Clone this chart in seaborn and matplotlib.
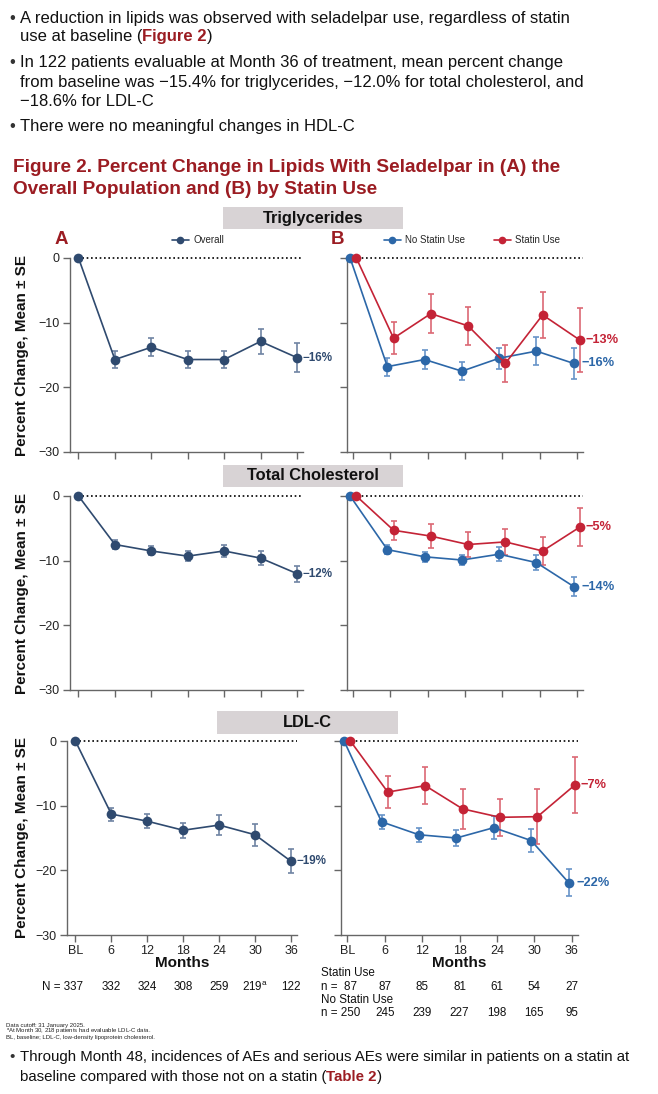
import numpy as np
import pandas as pd
import matplotlib
matplotlib.use("Agg")
import matplotlib.pyplot as plt
from matplotlib.lines import Line2D
from matplotlib.patches import Rectangle
import matplotlib.transforms as mtransforms
import seaborn as sns

# --- data ---
months = [0, 6, 12, 18, 24, 30, 36]
month_labels = ["BL", "6", "12", "18", "24", "30", "36"]

tg_overall = [0, -15.7, -13.8, -15.7, -15.7, -12.9, -15.4]
tg_overall_se = [0, 1.3, 1.4, 1.3, 1.3, 1.9, 2.2]
tg_nostatin = [0, -16.8, -15.7, -17.5, -15.5, -14.4, -16.3]
tg_nostatin_se = [0, 1.4, 1.5, 1.4, 1.6, 2.2, 2.4]
tg_statin = [0, -12.4, -8.6, -10.5, -16.3, -8.8, -12.7]
tg_statin_se = [0, 2.5, 3.0, 2.9, 2.9, 3.6, 5.0]

tc_overall = [0, -7.5, -8.5, -9.3, -8.5, -9.6, -12.0]
tc_overall_se = [0, 0.65, 0.7, 0.75, 1.0, 1.1, 1.25]
tc_nostatin = [0, -8.3, -9.4, -9.9, -9.0, -10.3, -14.0]
tc_nostatin_se = [0, 0.7, 0.8, 0.8, 1.1, 1.2, 1.4]
tc_statin = [0, -5.3, -6.2, -7.5, -7.1, -8.5, -4.8]
tc_statin_se = [0, 1.5, 1.8, 1.9, 2.0, 2.1, 3.0]

ldl_overall = [0, -11.3, -12.4, -13.8, -13.0, -14.5, -18.6]
ldl_overall_se = [0, 1.0, 1.1, 1.15, 1.5, 1.7, 1.85]
ldl_nostatin = [0, -12.5, -14.5, -15.0, -13.4, -15.4, -21.9]
ldl_nostatin_se = [0, 1.05, 1.1, 1.2, 1.75, 1.8, 2.05]
ldl_statin = [0, -7.9, -6.9, -10.5, -11.8, -11.7, -6.8]
ldl_statin_se = [0, 2.5, 2.9, 3.1, 2.9, 4.25, 4.3]

lipids = ["Triglycerides", "Total Cholesterol", "LDL-C"]
overall_labels = ["\u221216%", "\u221212%", "\u221219%"]
nostatin_labels = ["\u221216%", "\u221214%", "\u221222%"]
statin_labels = ["\u221213%", "\u22125%", "\u22127%"]

n_overall = ["332", "324", "308", "259", "219$^\\mathregular{a}$", "122"]
n_statin = ["87", "85", "81", "61", "54", "27"]
n_nostatin = ["245", "239", "227", "198", "165", "95"]

# --- style ---
sns.set_style("ticks")
plt.rcParams["font.family"] = ["Liberation Sans", "DejaVu Sans"]
plt.rcParams["axes.unicode_minus"] = True

NAVY = "#2f4a6f"
NAVY_E = "#6f84a3"
BLUE = "#2c67a8"
BLUE_E = "#6794c8"
RED = "#c42336"
RED_E = "#dc6874"
DARKRED = "#9b1c22"
GRAYBOX = "#d8d3d5"
INK = "#111111"

W, H = 658, 1094
fig = plt.figure(figsize=(W / 100, H / 100), dpi=100)
renderer = fig.canvas.get_renderer()


def fx(px):
    return px / W


def fy(py):
    return 1 - py / H


def rich_line(x_px, y_px, parts, size):
    x = x_px
    for s, color, weight in parts:
        t = fig.text(fx(x), fy(y_px), s, color=color, weight=weight, size=size,
                     ha="left", va="center")
        x += t.get_window_extent(renderer).width


def bullet(y_px, size):
    fig.text(fx(9), fy(y_px), "\u2022", size=size, va="center", color="#333333")


# --- top text ---
body = 12
bullet(18, body)
rich_line(20, 18, [("A reduction in lipids was observed with seladelpar use, regardless of statin", INK, "normal")], body)
rich_line(20, 37, [("use at baseline (", INK, "normal"), ("Figure 2", DARKRED, "bold"), (")", INK, "normal")], body)
bullet(63, body)
rich_line(20, 63, [("In 122 patients evaluable at Month 36 of treatment, mean percent change", INK, "normal")], body)
rich_line(20, 82, [("from baseline was \u221215.4% for triglycerides, \u221212.0% for total cholesterol, and", INK, "normal")], body)
rich_line(20, 101, [("\u221218.6% for LDL-C", INK, "normal")], body)
bullet(126, body)
rich_line(20, 126, [("There were no meaningful changes in HDL-C", INK, "normal")], body)

fig.text(fx(13), fy(167), "Figure 2. Percent Change in Lipids With Seladelpar in (A) the",
         color=DARKRED, weight="bold", size=13.7, va="center")
fig.text(fx(13), fy(189), "Overall Population and (B) by Statin Use",
         color=DARKRED, weight="bold", size=13.7, va="center")

# --- panels ---
rows = [
    dict(top=258, bottom=452, a=(70, 303), b=(347, 583), box=(223, 403, 207, 229)),
    dict(top=496, bottom=690, a=(70, 303), b=(347, 583), box=(223, 403, 465, 487)),
    dict(top=741, bottom=935, a=(67, 297), b=(341, 578), box=(217, 398, 711, 734)),
]
overall_data = [(tg_overall, tg_overall_se), (tc_overall, tc_overall_se), (ldl_overall, ldl_overall_se)]
nostatin_data = [(tg_nostatin, tg_nostatin_se), (tc_nostatin, tc_nostatin_se), (ldl_nostatin, ldl_nostatin_se)]
statin_data = [(tg_statin, tg_statin_se), (tc_statin, tc_statin_se), (ldl_statin, ldl_statin_se)]


def style_axis(ax, xlim, show_x, show_y):
    ax.set_xlim(*xlim)
    ax.set_ylim(-30, 0)
    ax.set_yticks([0, -10, -20, -30])
    ax.set_xticks(months)
    ax.set_xticklabels(month_labels if show_x else [])
    ax.tick_params(axis="both", direction="out", length=5, width=1, color="#666666",
                   labelsize=9, labelcolor="#222222", pad=2.5)
    ax.tick_params(axis="y", labelleft=show_y)
    for side in ["top", "right"]:
        ax.spines[side].set_visible(False)
    for side in ["left", "bottom"]:
        ax.spines[side].set_color("#666666")
        ax.spines[side].set_linewidth(1)
    ax.set_xlabel("")
    ax.set_ylabel("")
    ax.set_facecolor("white")
    x0, x1 = xlim
    ax.axhline(0, xmin=(0 - x0) / (x1 - x0), xmax=1.0, color="black",
               linestyle=(0, (1, 1.6)), linewidth=1.2, zorder=1, clip_on=False)


def draw_series(ax, mean, se, color, ecolor, dx, label, label_dx, label_size):
    df = pd.DataFrame({"month": np.array(months) + dx, "pct": mean, "se": se})
    sns.lineplot(data=df, x="month", y="pct", color=color, marker="o", markersize=7,
                 markeredgewidth=0, linewidth=1.2, ax=ax, clip_on=False, zorder=4)
    sub = df.iloc[1:]
    ax.errorbar(sub["month"], sub["pct"], yerr=sub["se"], fmt="none", ecolor=ecolor,
                elinewidth=1.2, capsize=2.5, capthick=1.2, zorder=3)
    ax.text(df["month"].iloc[-1] + label_dx, df["pct"].iloc[-1], label, color=color,
            size=label_size, weight="bold", va="center", ha="left", clip_on=False)


axes_a, axes_b = [], []
for i, r in enumerate(rows):
    hpx = r["bottom"] - r["top"]
    ax_a = fig.add_axes([fx(r["a"][0]), fy(r["bottom"]), (r["a"][1] - r["a"][0]) / W, hpx / H])
    ax_b = fig.add_axes([fx(r["b"][0]), fy(r["bottom"]), (r["b"][1] - r["b"][0]) / W, hpx / H])
    last = i == len(rows) - 1

    m, s = overall_data[i]
    draw_series(ax_a, m, s, NAVY, NAVY_E, 0, overall_labels[i], 0.9, 8.4)
    m, s = nostatin_data[i]
    draw_series(ax_b, m, s, BLUE, BLUE_E, -0.5, nostatin_labels[i], 1.3, 9.2)
    m, s = statin_data[i]
    draw_series(ax_b, m, s, RED, RED_E, 0.5, statin_labels[i], 0.9, 9.2)

    style_axis(ax_a, (-1.4, 37), last, True)
    style_axis(ax_b, (-1.0, 37), last, False)

    # header box
    x0, x1, y0, y1 = r["box"]
    fig.add_artist(Rectangle((fx(x0), fy(y1)), (x1 - x0) / W, (y1 - y0) / H,
                             transform=fig.transFigure, facecolor=GRAYBOX, edgecolor="none"))
    fig.text(fx((x0 + x1) / 2), fy((y0 + y1) / 2), lipids[i], weight="bold", size=11.8,
             ha="center", va="center", color=INK)

    # y label
    fig.text(fx(22), fy((r["top"] + r["bottom"]) / 2), "Percent Change, Mean \u00b1 SE",
             rotation=90, weight="bold", size=11, ha="center", va="center", color=INK)
    axes_a.append(ax_a)
    axes_b.append(ax_b)

# panel letters and legends
fig.text(fx(61), fy(240), "A", color=DARKRED, weight="bold", size=13.5, ha="center", va="center")
fig.text(fx(337), fy(240), "B", color=DARKRED, weight="bold", size=13.5, ha="center", va="center")

leg_kw = dict(frameon=False, fontsize=7, handlelength=1.7, handletextpad=0.45,
              borderaxespad=0, borderpad=0)
h_over = [Line2D([], [], color=NAVY, marker="o", markersize=5.5, markeredgewidth=0, lw=1.2)]
fig.legend(h_over, ["Overall"], loc="center", bbox_to_anchor=(fx(198), fy(240)), **leg_kw)
h_b = [Line2D([], [], color=BLUE, marker="o", markersize=5.5, markeredgewidth=0, lw=1.2),
       Line2D([], [], color=RED, marker="o", markersize=5.5, markeredgewidth=0, lw=1.2)]
fig.legend(h_b, ["No Statin Use", "Statin Use"], loc="center", ncol=2, columnspacing=3.0,
           bbox_to_anchor=(fx(472), fy(240)), **leg_kw)

# x labels
for ax in (axes_a[-1], axes_b[-1]):
    ax.text(0.5, fy(963), "Months",
            transform=mtransforms.blended_transform_factory(ax.transAxes, fig.transFigure),
            weight="bold", size=11, ha="center", va="center", color=INK)

# N rows
tr_a = mtransforms.blended_transform_factory(axes_a[-1].transData, fig.transFigure)
tr_b = mtransforms.blended_transform_factory(axes_b[-1].transData, fig.transFigure)
nsize = 8.4
axes_a[-1].text(1.3, fy(987), "N = 337", transform=tr_a, size=nsize, ha="right", va="center", color=INK)
for mo, v in zip(months[1:], n_overall):
    axes_a[-1].text(mo, fy(987), v, transform=tr_a, size=nsize, ha="center", va="center", color=INK)

fig.text(fx(321), fy(973), "Statin Use", size=nsize, ha="left", va="center", color=INK)
fig.text(fx(321), fy(987), "n =  87", size=nsize, ha="left", va="center", color=INK)
fig.text(fx(321), fy(1000), "No Statin Use", size=nsize, ha="left", va="center", color=INK)
fig.text(fx(321), fy(1013), "n = 250", size=nsize, ha="left", va="center", color=INK)
for mo, v1, v2 in zip(months[1:], n_statin, n_nostatin):
    axes_b[-1].text(mo, fy(987), v1, transform=tr_b, size=nsize, ha="center", va="center", color=INK)
    axes_b[-1].text(mo, fy(1013), v2, transform=tr_b, size=nsize, ha="center", va="center", color=INK)

# footnotes
foot = 4.3
fig.text(fx(6), fy(1025), "Data cutoff: 31 January 2025.", size=foot, va="center", color="#222222")
fig.text(fx(6), fy(1031), "$^\\mathregular{a}$At Month 30, 218 patients had evaluable LDL-C data.", size=foot, va="center", color="#222222")
fig.text(fx(6), fy(1037), "BL, baseline; LDL-C, low-density lipoprotein cholesterol.", size=foot, va="center", color="#222222")

bottom_size = 10.8
bullet(1057, bottom_size)
rich_line(20, 1057, [("Through Month 48, incidences of AEs and serious AEs were similar in patients on a statin at", INK, "normal")], bottom_size)
rich_line(20, 1077, [("baseline compared with those not on a statin (", INK, "normal"), ("Table 2", DARKRED, "bold"), (")", INK, "normal")], bottom_size)

fig.savefig("out.png", dpi=100, facecolor="white")
